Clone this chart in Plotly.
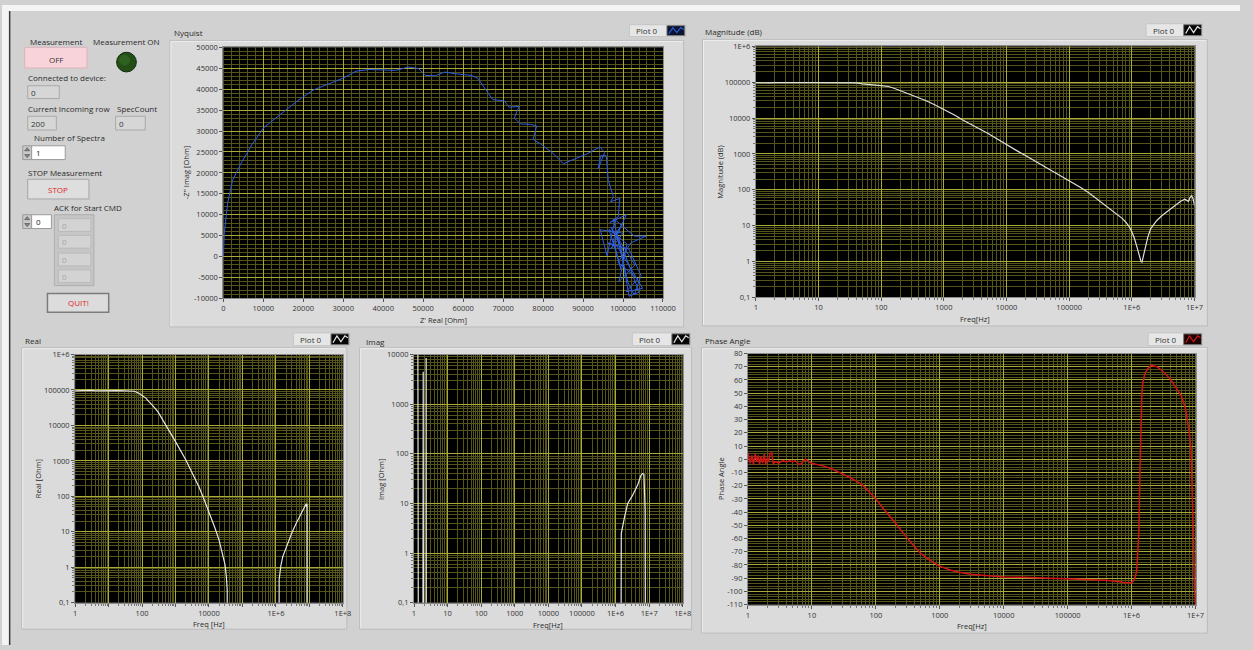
import math
import plotly.graph_objects as go

W, H = 1253, 650

# ---------------- data ----------------
nyq_real = [0, 250, 1070, 2300, 4400, 7250, 10100, 14250, 18400, 22500,
            26600, 29900, 33200, 36500, 43100, 46400, 48900, 50500, 53000, 55400,
            57900, 62000, 63700, 65700, 67400, 70300, 71500, 74000, 72800, 74400,
            76900, 78400, 77500, 79400, 82200, 85100, 88000, 90900, 94200, 95400,
            93800, 94400, 95800, 96300, 97600, 96900, 99200, 98800, 96700, 100800,
            97000, 100000, 94300, 96000, 98000, 102800, 105800, 102000, 98700, 103700,
            100800, 104900, 102000, 98500, 96000, 101500, 104500, 102800, 101200, 98300,
            100000, 97500, 99500, 96500, 101000, 99000, 103000, 97000, 100500, 104000,
            101500, 99500, 97500]
nyq_imag = [0, 5600, 12700, 18200, 22200, 26900, 30800, 33900, 37100, 39800,
            41400, 42600, 44300, 44700, 44500, 45300, 44900, 43300, 43200, 44100,
            43700, 43300, 42600, 39800, 37500, 37200, 35700, 35900, 33100, 31700,
            31600, 31200, 28000, 26900, 24900, 22200, 23300, 24500, 26200, 24900,
            21000, 24100, 24100, 18200, 14300, 13100, 13900, 9500, 8100, 10000,
            1800, 5600, 6400, 200, 8800, 4900, 4900, 3300, -1400, -5300,
            -8400, -7600, -2900, 2500, 3300, 1800, -4500, -9200, -6100, 5600,
            8100, 4000, -3000, 6500, 3000, -6000, -2000, 7000, 500, -8500,
            -9500, 2000, 9000]

mag_freq = [1, 1.3, 1.6, 2, 2.5, 3, 4, 5, 6, 8,
            10, 13, 16, 20, 25, 30, 40, 50, 60, 80,
            100, 130, 160, 200, 250, 300, 400, 500, 700, 1000,
            1500, 2000, 3000, 5000, 7000, 10000, 15000, 20000, 30000, 50000,
            70000, 1e5, 1.5e5, 2e5, 3e5, 4e5, 5e5, 6e5, 7e5, 8e5,
            9e5, 1e6, 1.1e6, 1.2e6, 1.3e6, 1.4e6, 1.45e6, 1.5e6, 1.6e6, 1.8e6,
            2e6, 2.5e6, 3e6, 4e6, 5e6, 6e6, 7e6, 7.5e6, 8e6, 8.5e6,
            9e6, 9.5e6, 1e7]
mag_db = [97000, 95000, 96000, 98000, 96000, 97000, 97000, 99000, 98000, 97000,
          97000, 97000, 97000, 96000, 97000, 96000, 96000, 90000, 86000, 83000,
          80000, 76000, 68000, 59000, 51000, 45000, 37000, 31500, 24000, 17700,
          12000, 8800, 6100, 3800, 2650, 1800, 1200, 900, 600, 355,
          250, 178, 118, 85, 50, 34, 25, 19.5, 16, 12.5,
          9.6, 6.7, 4.4, 2.6, 1.5, 1.0, 0.97, 1.25, 2.1, 4.9,
          8.3, 14, 19, 28, 38, 48, 55, 50, 48, 62,
          68, 55, 36]

real_freq = [1, 1.5, 2, 3, 4, 6, 8, 10, 15, 20,
             30, 45, 60, 80, 100, 130, 160, 200, 300, 500,
             700, 1000, 2000, 3000, 5000, 7000, 10000, 15000, 20000, 25000,
             30000, 33000, 35000, 36000, 1.2e6, 1.25e6, 1.4e6, 1.6e6, 2e6, 2.5e6,
             3e6, 4e6, 5e6, 6e6, 7e6, 7.5e6, 8e6, 8.3e6, 8.5e6, 8.7e6,
             1e8]
real_ohm = [94000, 96000, 95000, 97000, 95000, 96000, 95000, 96000, 95000, 96000,
            95000, 95000, 92000, 81000, 70000, 59000, 47000, 38000, 24000, 11000,
            6600, 3500, 1100, 520, 185, 85, 36, 13, 5.8, 2.4,
            1.2, 0.55, 0.23, 1e-9, 1e-9, 0.45, 1.1, 2.0, 3.5, 6.2,
            9.4, 17, 26, 37, 50, 55, 62, 50, 62, 1e-9,
            1e-9]

imag_freq = [1, 1.3, 1.4, 1.8, 1.88, 1.95, 2.25, 2.3, 2.36, 1.38e6,
             1.42e6, 1.48e6, 1.86e6, 2.3e6, 3.2e6, 4.6e6, 5.7e6, 6.4e6, 7.0e6, 7.4e6,
             7.6e6, 8.0e6, 1e8]
imag_ohm = [20000, 30000, 1e-9, 1e-9, 4500, 1e-9, 1e-9, 8500, 1e-9, 1e-9,
            0.6, 2.5, 5.4, 10, 14.5, 24, 37, 40, 38, 11,
            7, 1e-9, 1e-9]

phase_freq = [1, 1.08, 1.15, 1.22, 1.3, 1.38, 1.45, 1.52, 1.6, 1.7,
              1.8, 1.9, 2.0, 2.1, 2.2, 2.35, 2.5, 2.6, 2.8, 3,
              3.5, 4, 4.5, 5, 5.5, 6, 6.5, 7, 7.5, 8,
              9, 10, 12, 15, 20, 25, 30, 40, 50, 60,
              80, 100, 130, 160, 200, 250, 300, 400, 500, 600,
              800, 1000, 1500, 2000, 3000, 5000, 7000, 10000, 20000, 50000,
              1e5, 2e5, 4e5, 6e5, 8e5, 1e6, 1.1e6, 1.2e6, 1.3e6, 1.35e6,
              1.4e6, 1.45e6, 1.5e6, 1.6e6, 1.75e6, 2e6, 2.5e6, 3e6, 4e6, 5e6,
              6e6, 7e6, 8e6, 8.5e6, 9e6, 9.3e6, 9.6e6, 1e7]
phase_deg = [5, -3, 3, -4, 4, -2, 3, -4, 2, -3,
             4, -4, 1, -2, 4, 5, -4, -2, -2, -3,
             -1, -2, -1, -2, -1, -3, -4, -3, -1, 0,
             -2, -3, -4, -5, -7, -9, -11, -14, -17, -19,
             -25, -30, -37, -42, -48, -54, -59, -66, -71, -74,
             -78, -81, -84, -85.5, -87, -88, -88.5, -89, -89.3, -90,
             -90.3, -91, -91.5, -92.5, -93.5, -93.5, -91, -85, -55, -10,
             30, 50, 58, 64, 68, 71, 70, 67, 61, 54,
             48, 38, 20, 8, -30, -60, -95, -112]

# tick labels
nyq_x_ticks = [0, 10000, 20000, 30000, 40000, 50000, 60000, 70000, 80000, 90000, 100000, 110000]
nyq_y_ticks = [-10000, -5000, 0, 5000, 10000, 15000, 20000, 25000, 30000, 35000, 40000, 45000, 50000]
phase_y_ticks = [-110, -100, -90, -80, -70, -60, -50, -40, -30, -20, -10, 0, 10, 20, 30, 40, 50, 60, 70, 80]

# ---------------- styling ----------------
FONT = "Open Sans, Noto Sans, DejaVu Sans, sans-serif"
PANEL = "#d1d1d1"
FRAME = "#dbdbdb"
MAJOR = "#aaaa38"
MINOR = "#55551b"
TXT = "#2a2a2a"


def X(px):
    return px / W


def Y(py):
    return 1 - py / H


shapes = []
annotations = []


def rect(x0, y0, x1, y1, fill, line=None, lw=1):
    shapes.append(dict(type="rect", xref="paper", yref="paper", layer="below",
                       x0=X(x0), x1=X(x1), y0=Y(y1), y1=Y(y0), fillcolor=fill,
                       line=dict(color=line if line else fill, width=lw if line else 0)))


def circle(cx, cy, r, fill, line=None):
    shapes.append(dict(type="circle", xref="paper", yref="paper", layer="below",
                       x0=X(cx - r), x1=X(cx + r), y0=Y(cy + r), y1=Y(cy - r),
                       fillcolor=fill, line=dict(color=line if line else fill, width=1)))


def poly(pts, color, width=1, fill=None, close=False):
    d = "M " + " L ".join(f"{X(a):.5f},{Y(b):.5f}" for a, b in pts)
    if close:
        d += " Z"
    shapes.append(dict(type="path", xref="paper", yref="paper", layer="below", path=d,
                       line=dict(color=color, width=width),
                       fillcolor=fill if fill else "rgba(0,0,0,0)"))


def text(x, y, s, size=8, color=TXT, xanchor="left", angle=0):
    annotations.append(dict(xref="paper", yref="paper", x=X(x), y=Y(y), text=s,
                            showarrow=False, xanchor=xanchor, yanchor="middle",
                            textangle=angle, borderpad=0,
                            font=dict(size=size, color=color, family=FONT)))


# screen borders
rect(0, 0, W, 6, "#f4f4f4")
rect(0, 0, 7, H, "#f4f4f4")
rect(7, 6, 8.5, H, "#3a3a3a")

# ---------------- left control panel ----------------
text(55, 37, "Measurement", xanchor="center")
rect(23, 43, 86, 64, "#f8d3da", "#dcb4bb")
text(55, 55, "OFF", xanchor="center", color="#333")
text(126, 37, "Measurement ON", xanchor="center")
circle(126, 58, 10, "#234f17", "#11290b")
circle(124, 56, 5, "#2f6221")

text(25, 74, "Connected to device:")
rect(26, 82, 58, 95, "#d6d6d6", "#a9a9a9")
text(28, 89, "0", color="#333")
text(25, 105, "Current Incoming row")
rect(26, 113, 55, 127, "#d6d6d6", "#a9a9a9")
text(28, 120, "200", color="#333")
text(115, 105, "SpecCount")
rect(115, 113, 145, 127, "#d6d6d6", "#a9a9a9")
text(117, 120, "0", color="#333")


def spinner(x0, y0, x1, y1):
    rect(x0, y0, x1, y1, "#c9c9c9", "#9a9a9a")
    mx = (x0 + x1) / 2
    my = (y0 + y1) / 2
    poly([(mx - 2.5, my - 2), (mx, my - 5), (mx + 2.5, my - 2)], "#6a6a6a", 1, "#8a8a8a", True)
    poly([(mx - 2.5, my + 2), (mx, my + 5), (mx + 2.5, my + 2)], "#6a6a6a", 1, "#8a8a8a", True)


text(31, 135, "Number of Spectra")
spinner(21, 143, 30, 157)
rect(30, 143, 64, 157, "#ffffff", "#9a9a9a")
text(33, 150, "1", color="#222")

text(25, 170, "STOP Measurement")
rect(26, 177, 88, 197, "#dedede", "#a6a6a6")
text(57, 187, "STOP", xanchor="center", color="#e02424")

text(87, 206, "ACK for Start CMD", xanchor="center")
spinner(21, 213, 30, 227)
rect(30, 213, 50, 227, "#ffffff", "#9a9a9a")
text(33, 220, "0", color="#222")
rect(53, 213, 93, 285, "#c6c6c6", "#adadad")
for (c0, c1) in [(217, 230), (234, 247), (252, 265), (269, 282)]:
    rect(57, c0, 90, c1, "#d3d3d3", "#bababa")
    text(60, (c0 + c1) / 2, "0", color="#a3a3a3")

rect(46, 293, 108, 312, "#dcdcdc", "#7c7c7c", 1.5)
text(77, 302.5, "QUIT!", xanchor="center", color="#e02424")

# ---------------- graph frames ----------------
frames = [
    (170, 36, 690, 327),   # Nyquist
    (709, 35, 1220, 326),  # Magnitude
    (20, 348, 349, 634),   # Real
    (362, 348, 698, 634),  # Imag
    (708, 348, 1220, 638), # Phase
]
for (a, b, c, d) in frames:
    rect(a, b, c, d, FRAME, "#bcbcbc")
    poly([(a + 1, d - 1), (a + 1, b + 1), (c - 1, b + 1)], "#ececec", 1)

# plot areas (pixel boxes)
boxes = {
    1: (224, 43, 669, 298),
    2: (763, 42, 1207, 297),
    3: (74, 355, 345, 607),
    4: (417, 355, 689, 607),
    5: (755, 354, 1208, 609),
}
for k, (a, b, c, d) in boxes.items():
    rect(a, b, c, d, "#000000")

# graph titles
text(173, 28, "Nyquist")
text(711, 27, "Magnitude (dB)")
text(22, 341, "Real")
text(367, 342, "Imag")
text(711, 341, "Phase Angle")


# legends "Plot 0"
def legend(x0, y0, x1, y1, icon_bg, color):
    rect(x0, y0, x1, y1, "#e6e6e6", "#c6c6c6")
    ix0 = x1 - 19
    rect(ix0, y0 + 1, x1 - 1, y1 - 1, icon_bg, "#7a7a7a")
    poly([(ix0 + 2, y1 - 3), (ix0 + 6, y0 + 3), (ix0 + 10, y1 - 4),
          (ix0 + 14, y0 + 3), (ix0 + 17, y0 + 5)], color, 1.2)
    text(x0 + 6, (y0 + y1) / 2, "Plot 0", size=8, color="#333")


legend(635, 20, 692, 32, "#0a1430", "#2f5bd0")
legend(1158, 19, 1215, 32, "#050505", "#e8e8e8")
legend(295, 333, 352, 346, "#050505", "#e8e8e8")
legend(638, 333, 697, 346, "#050505", "#e8e8e8")
legend(1160, 333, 1215, 346, "#1a0000", "#d01818")

# axis titles
text(187, 170, "-Z'' Imag [Ohm]", size=7.5, xanchor="center", angle=-90)
text(447, 320, "Z' Real [Ohm]", size=7.5, xanchor="center")
text(727, 170, "Magnitude (dB)", size=7.5, xanchor="center", angle=-90)
text(985, 319, "Freq[Hz]", size=7.5, xanchor="center")
text(36, 481, "Real [Ohm]", size=7.5, xanchor="center", angle=-90)
text(210, 629, "Freq [Hz]", size=7.5, xanchor="center")
text(383, 481, "Imag [Ohm]", size=7.5, xanchor="center", angle=-90)
text(553, 630, "Freq[Hz]", size=7.5, xanchor="center")
text(727, 481, "Phase Angle", size=7.5, xanchor="center", angle=-90)
text(982, 631, "Freq[Hz]", size=7.5, xanchor="center")

# ---------------- traces ----------------
fig = go.Figure()
fig.add_trace(go.Scatter(x=nyq_real, y=nyq_imag, mode="lines",
                         line=dict(color="#2f5fe0", width=1), xaxis="x", yaxis="y"))
fig.add_trace(go.Scatter(x=mag_freq, y=mag_db, mode="lines",
                         line=dict(color="#dedede", width=1.2), xaxis="x2", yaxis="y2"))
fig.add_trace(go.Scatter(x=real_freq, y=real_ohm, mode="lines",
                         line=dict(color="#e6e6e6", width=1.2), xaxis="x3", yaxis="y3"))
fig.add_trace(go.Scatter(x=imag_freq, y=imag_ohm, mode="lines",
                         line=dict(color="#e6e6e6", width=1.2), xaxis="x4", yaxis="y4"))
fig.add_trace(go.Scatter(x=phase_freq, y=phase_deg, mode="lines",
                         line=dict(color="#d21414", width=1.5), xaxis="x5", yaxis="y5"))


def log_label(k):
    if k == -1:
        return "0,1"
    if k <= 5:
        return str(10 ** k)
    return f"1E+{k}"


common = dict(showline=True, linecolor="#8c8c8c", linewidth=1, mirror=True,
              ticks="outside", ticklen=3, tickcolor="#555555",
              tickfont=dict(size=7.5, color="#333333", family=FONT),
              showgrid=True, gridcolor=MAJOR, gridwidth=1, zeroline=False,
              fixedrange=True)


def log_axis(lo, hi, every=1):
    vals = [10.0 ** k for k in range(lo, hi + 1)]
    txt = [log_label(k) if (k - lo) % every == 0 else "" for k in range(lo, hi + 1)]
    mvals = [m * 10.0 ** k for k in range(lo, hi) for m in range(2, 10)]
    d = dict(common)
    d.update(type="log", range=[lo, hi], tickmode="array", tickvals=vals, ticktext=txt,
             layer="below traces",
             minor=dict(tickmode="array", tickvals=mvals, showgrid=True, gridcolor=MINOR,
                        gridwidth=1, ticks="outside", ticklen=2, tickcolor="#777777"))
    return d


def lin_axis(ticks, minor_step):
    d = dict(common)
    d.update(type="linear", range=[ticks[0], ticks[-1]], tickmode="array", tickvals=ticks,
             ticktext=[str(t) for t in ticks], layer="below traces",
             minor=dict(dtick=minor_step, tick0=ticks[0], showgrid=True, gridcolor=MINOR,
                        gridwidth=1, ticks=""))
    return d


def dom(k):
    a, b, c, d = boxes[k]
    return [X(a), X(c)], [Y(d), Y(b)]


axes = {}
specs = {
    1: (lin_axis(nyq_x_ticks, 2000), lin_axis(nyq_y_ticks, 1000)),
    2: (log_axis(0, 7), log_axis(-1, 6)),
    3: (log_axis(0, 8, 2), log_axis(-1, 6)),
    4: (log_axis(0, 8), log_axis(-1, 4)),
    5: (log_axis(0, 7), lin_axis(phase_y_ticks, 2)),
}
for k, (xa, ya) in specs.items():
    xd, yd = dom(k)
    sfx = "" if k == 1 else str(k)
    axes["xaxis" + sfx] = dict(xa, domain=xd, anchor="y" + sfx)
    axes["yaxis" + sfx] = dict(ya, domain=yd, anchor="x" + sfx)

fig.update_layout(width=W, height=H, autosize=False, margin=dict(l=0, r=0, t=0, b=0, pad=0),
                  paper_bgcolor=PANEL, plot_bgcolor="rgba(0,0,0,0)",
                  showlegend=False, shapes=shapes, annotations=annotations,
                  font=dict(family=FONT, color=TXT), **axes)

# remove body margins; page background matches the panel grey
css = ("var s=document.createElement('style');"
       "s.innerHTML='html,body{margin:0!important;padding:0!important;overflow:hidden!important;"
       "line-height:0!important;background:" + PANEL + "!important;}"
       ".svg-container{display:block!important;}';"
       "document.head.appendChild(s);")
fig.write_html("out.html", config={"displayModeBar": False, "staticPlot": True},
               post_script=css)
